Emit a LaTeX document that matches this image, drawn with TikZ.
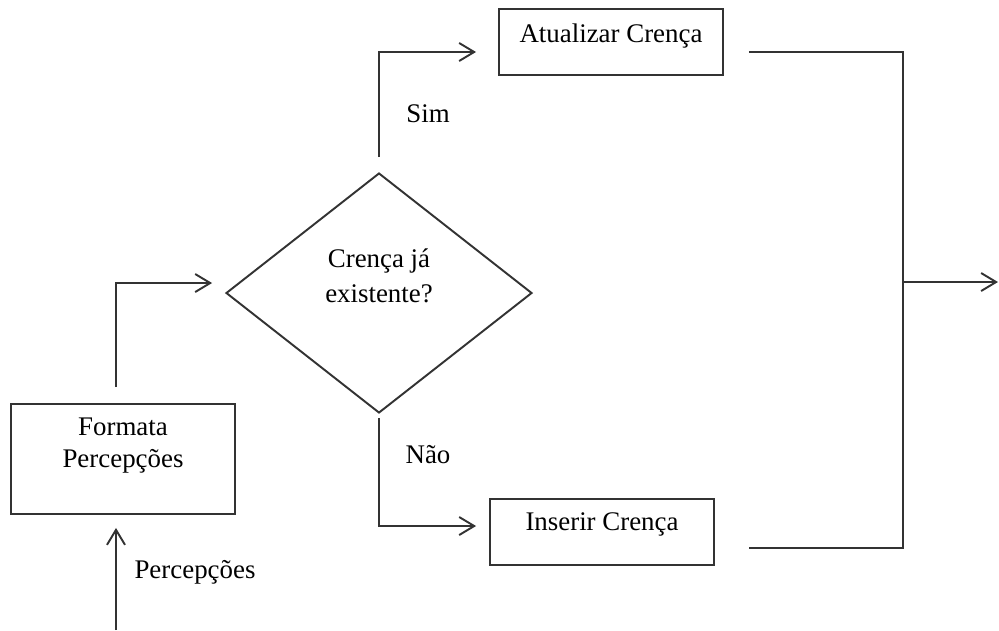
\documentclass[tikz,border=0pt]{standalone}
\usepackage{fontspec}
\setmainfont{Liberation Serif}
\usetikzlibrary{shapes.geometric,arrows.meta}
\begin{document}
\begin{tikzpicture}[x=0.02cm,y=-0.02cm,
  font=\fontsize{15.3}{18.7}\selectfont,
  ln/.style={draw=black!80, line width=1.1pt},
  arr/.style={ln, -{Straight Barb[length=0.3cm,width=0.36cm]}},
  box/.style={draw=black!80, line width=1.1pt, rectangle, inner sep=0pt, minimum width=4.48cm},
  lbl/.style={anchor=base, inner sep=0pt}]
\useasboundingbox (0,0) rectangle (999,630);

\node[box, minimum height=2.2cm, text height=0.62cm, text depth=1.58cm] (fm) at (123,459)
  {\begin{tabular}[t]{@{}c@{}}Formata\\Percepções\end{tabular}};
\node[diamond, draw=black!80, line width=1.1pt, inner sep=0pt, minimum width=6.12cm, minimum height=4.8cm,
  text height=0.4cm, text depth=1.44cm, font=\fontsize{15.3}{20.4}\selectfont] (dm) at (379,293)
  {\begin{tabular}[t]{@{}c@{}}Crença já\\existente?\end{tabular}};
\node[box, minimum height=1.32cm, text height=0.66cm, text depth=0.66cm] (upd) at (611,42) {Atualizar Crença};
\node[box, minimum height=1.32cm, text height=0.62cm, text depth=0.70cm] (ins) at (602,532) {Inserir Crença};

\node[lbl] (sim) at (428,122) {Sim};
\node[lbl] (nao) at (428,463) {Não};
\node[lbl] (perc) at (195,578) {Percepções};

\coordinate (pin) at (116,630);
\coordinate (jx) at (903,282);
\coordinate (out) at (998,282);

\draw[arr, shorten >=0.26cm] (pin) -- (pin |- fm.south);
\draw[arr, shorten <=0.32cm, shorten >=0.26cm] (fm.north -| pin) |- ([yshift=0.2cm]dm.west);
\draw[arr, shorten <=0.3cm, shorten >=0.44cm] (dm.north) |- ([yshift=-0.2cm]upd.west);
\draw[arr, shorten <=0.08cm, shorten >=0.26cm] (dm.south) |- ([yshift=0.12cm]ins.west);
\draw[ln, shorten <=0.5cm, shorten >=0.68cm] ([yshift=-0.2cm]upd.east) -| (jx) |- ([yshift=-0.32cm]ins.east);
\draw[arr] (jx) -- (out);
\end{tikzpicture}
\end{document}
